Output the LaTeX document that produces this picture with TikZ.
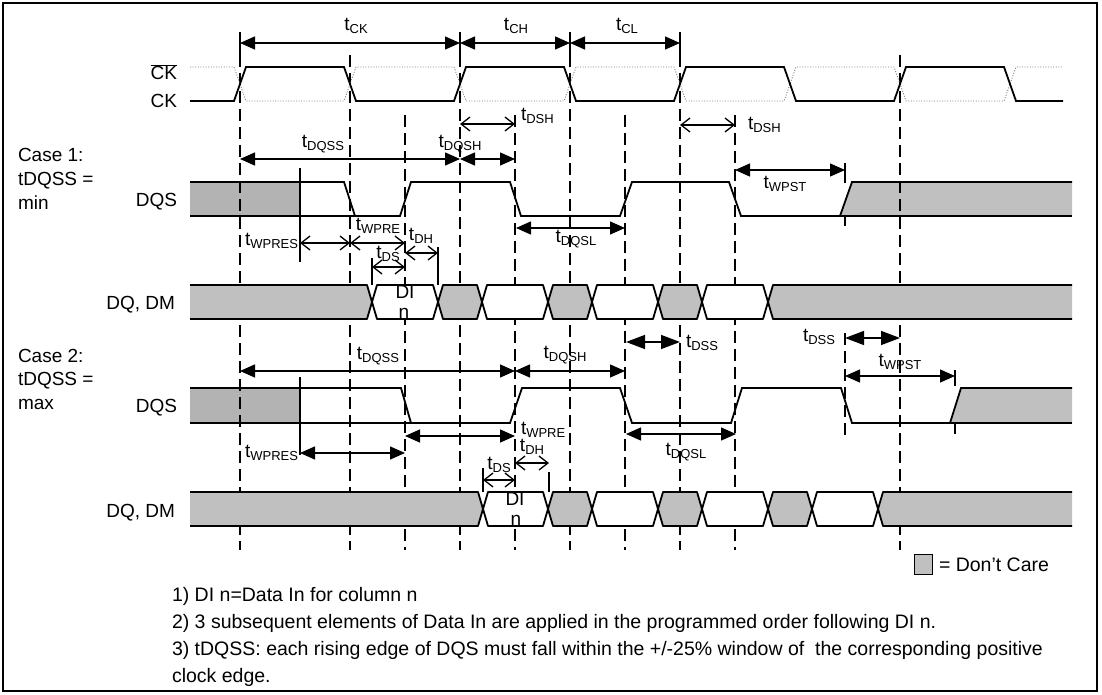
\documentclass[tikz,border=0pt]{standalone}
\usepackage{fontspec}
\setmainfont{Liberation Sans}
\usetikzlibrary{arrows.meta}
\definecolor{dcgray}{HTML}{C0C0C0}
\definecolor{dcdark}{HTML}{B3B3B3}
\newcommand{\tsub}[2]{#1\raisebox{-2.5pt}{\fontsize{13}{13}\selectfont #2}}
\newcommand{\dqeye}[5]{%
  \filldraw[sig, line join=round, fill=#5] (#1,{(#3+#4)/2}) -- ({#1+5},#3) -- ({#2-5},#3) -- (#2,{(#3+#4)/2}) -- ({#2-5},#4) -- ({#1+5},#4) -- cycle;}
\begin{document}
\begin{tikzpicture}[x=1pt,y=-1pt,
  every node/.style={inner sep=0pt, outer sep=0pt, font=\fontsize{19}{22}\selectfont},
  sig/.style={line width=1.8pt},
  dsh/.style={line width=1.6pt, dash pattern=on 12pt off 6pt},
  tick/.style={line width=1.4pt},
  dim/.style={line width=1.4pt, {Triangle[length=15pt,width=13pt]}-{Triangle[length=15pt,width=13pt]}},
  bigdim/.style={line width=1.4pt, {Triangle[length=19pt,width=14pt]}-{Triangle[length=19pt,width=14pt]}},
  odim/.style={line width=1.3pt, {Straight Barb[length=9pt,width=14pt]}-{Straight Barb[length=9pt,width=14pt]}},
  lab/.style={anchor=mid},
  note/.style={anchor=base west, font=\fontsize{19.5}{23}\selectfont},
  ckdot/.style={line width=0.9pt, gray, dash pattern=on 1pt off 1.6pt},
]
\useasboundingbox (0,0) rectangle (1102,695);
\draw[line width=2.5pt] (3,3) rectangle (1097,691);

% ---------- left labels
\node[anchor=base east] (lckb) at (177,80) {$\overline{\mbox{CK}}$};
\node[anchor=base east] (lck) at (177,108) {CK};
\node[anchor=base west] (c1a) at (18,162) {Case 1:};
\node[anchor=base west] (c1b) at (18,185.5) {tDQSS =};
\node[anchor=base west] (c1c) at (18,209) {min};
\node[anchor=base east] (ldqs1) at (177,207) {DQS};
\node[anchor=base east] (ldq1) at (175,309) {DQ, DM};
\node[anchor=base west] (c2a) at (18,362) {Case 2:};
\node[anchor=base west] (c2b) at (18,385.5) {tDQSS =};
\node[anchor=base west] (c2c) at (18,409) {max};
\node[anchor=base east] (ldqs2) at (177,412) {DQS};
\node[anchor=base east] (ldq2) at (175,517) {DQ, DM};

% ---------- DQS grey blocks (under dashes)
\fill[dcdark] (190,182) rectangle (300,216);
\fill[dcgray] (840,216) -- (852,182) -- (1072,182) -- (1072,216) -- cycle;
\fill[dcdark] (190,388) rectangle (300,423);
\fill[dcgray] (950,423) -- (961,388) -- (1072,388) -- (1072,423) -- cycle;

% ---------- dashed reference lines
\foreach \x in {240,350,460,570,680,900} \draw[dsh] (\x,55) -- (\x,550);
\foreach \x in {405,515,625,735} \draw[dsh] (\x,115) -- (\x,550);
\draw[dsh] (845,333) -- (845,436);
\foreach \x in {240,460,570,680} \draw[tick] (\x,32) -- (\x,56);

% ---------- clock
\draw[ckdot] (190,67) -- (234,67) -- (246,101) -- (344,101) -- (356,67) -- (454,67) -- (466,101) -- (564,101) -- (576,67) -- (674,67) -- (686,101) -- (784,101) -- (796,67) -- (894,67) -- (906,101) -- (1004,101) -- (1016,67) -- (1063,67);
\draw[sig] (190,101) -- (234,101) -- (246,67) -- (344,67) -- (356,101) -- (454,101) -- (466,67) -- (564,67) -- (576,101) -- (674,101) -- (686,67) -- (784,67) -- (796,101) -- (894,101) -- (906,67) -- (1004,67) -- (1016,101) -- (1063,101);

\draw[dim] (240,43) -- (460,43);
\draw[dim] (460,43) -- (570,43);
\draw[dim] (570,43) -- (680,43);
\node[lab] (tck) at (356,28) {\tsub{t}{CK}};
\node[lab] (tch) at (516,28) {\tsub{t}{CH}};
\node[lab] (tcl) at (627,28) {\tsub{t}{CL}};

\draw[odim] (460,124) -- (515,124);
\node[anchor=mid west] (tdsh1) at (521,118) {\tsub{t}{DSH}};
\draw[odim] (680,125) -- (735,125);
\node[anchor=mid west] (tdsh2) at (748,127) {\tsub{t}{DSH}};

% ---------- case 1 DQS
\draw[sig] (190,182) -- (344,182) -- (355,216);
\draw[sig] (190,216) -- (400,216) -- (411,182) -- (510,182) -- (521,216) -- (620,216) -- (632,182) -- (729,182) -- (741,216) -- (840,216) -- (852,182) -- (1072,182);
\draw[sig] (840,216) -- (1072,216);
\draw[tick] (300,168) -- (300,262);
\draw[dim] (240,159) -- (460,159);
\draw[dim] (460,159) -- (515,159);
\node[lab] (tdqss1) at (323,145) {\tsub{t}{DQSS}};
\node[lab] (tdqsh1) at (460,145) {\tsub{t}{DQSH}};
\draw[dim] (735,170) -- (845,170);
\draw[tick] (845,163) -- (845,183);
\draw[tick] (845,216) -- (845,226);
\node[lab] (twpst1) at (785,186) {\tsub{t}{WPST}};
\draw[odim] (300,243) -- (350,243);
\draw[odim] (350,243) -- (405,243);
\node[anchor=mid east] (twpres1) at (298,243) {\tsub{t}{WPRES}};
\node[lab] (twpre1) at (378,228) {\tsub{t}{WPRE}};
\draw[odim] (405,253) -- (438,253);
\draw[odim] (372,267) -- (405,267);
\draw[tick] (372,258) -- (372,285);
\draw[tick] (438,247) -- (438,285);
\node[lab] (tdh1) at (421,238) {\tsub{t}{DH}};
\node[lab] (tds1) at (388,256) {\tsub{t}{DS}};
\draw[dim] (516,228) -- (625,228);
\node[lab] (tdqsl1) at (576,240) {\tsub{t}{DQSL}};

% ---------- case 1 DQ
\fill[dcgray] (190,285) -- (367,285) -- (372,302) -- (367,319) -- (190,319) -- cycle;
\draw[sig, line join=round] (190,285) -- (367,285) -- (372,302) -- (367,319) -- (190,319);
\dqeye{372}{438}{285}{319}{white}
\dqeye{438}{482}{285}{319}{dcgray}
\dqeye{482}{548}{285}{319}{white}
\dqeye{548}{592}{285}{319}{dcgray}
\dqeye{592}{658}{285}{319}{white}
\dqeye{658}{702}{285}{319}{dcgray}
\dqeye{702}{768}{285}{319}{white}
\fill[dcgray] (768,302) -- (773,285) -- (1072,285) -- (1072,319) -- (773,319) -- cycle;
\draw[sig, line join=round] (1072,285) -- (773,285) -- (768,302) -- (773,319) -- (1072,319);
\node[anchor=base] (di1) at (405,298) {DI};
\node[anchor=base] (n1) at (404,318) {n};

\draw[bigdim] (626,342) -- (680,342);
\node[anchor=mid west] (tdss1) at (686,345) {\tsub{t}{DSS}};
\draw[bigdim] (845,338) -- (900,338);
\node[anchor=mid east] (tdss2) at (835,339) {\tsub{t}{DSS}};

% ---------- case 2 DQS
\draw[sig] (190,388) -- (401,388) -- (411,423);
\draw[sig] (190,423) -- (510,423) -- (522,388) -- (620,388) -- (632,423) -- (731,423) -- (742,388) -- (841,388) -- (852,423) -- (950,423) -- (961,388) -- (1072,388);
\draw[sig] (950,423) -- (1072,423);
\draw[tick] (300,377) -- (300,455);
\draw[dim] (240,371) -- (515,371);
\draw[dim] (515,371) -- (625,371);
\node[lab] (tdqss2) at (378,357) {\tsub{t}{DQSS}};
\node[lab] (tdqsh2) at (565,356) {\tsub{t}{DQSH}};
\draw[dim] (845,376) -- (955,376);
\draw[tick] (955,370) -- (955,386);
\draw[tick] (955,423) -- (955,434);
\node[lab] (twpst2) at (900,364) {\tsub{t}{WPST}};
\draw[dim] (405,436) -- (515,436);
\node[anchor=mid west] (twpre2) at (521,432) {\tsub{t}{WPRE}};
\draw[dim] (300,453) -- (405,453);
\node[anchor=mid east] (twpres2) at (298,455) {\tsub{t}{WPRES}};
\draw[dim] (626,434) -- (736,434);
\node[lab] (tdqsl2) at (686,453) {\tsub{t}{DQSL}};
\draw[odim] (515,463) -- (549,463);
\draw[odim] (483,480) -- (515,480);
\draw[tick] (483,468) -- (483,492);
\draw[tick] (549,472) -- (549,492);
\node[lab] (tdh2) at (532,449) {\tsub{t}{DH}};
\node[lab] (tds2) at (499,467) {\tsub{t}{DS}};

% ---------- case 2 DQ
\fill[dcgray] (190,492) -- (478,492) -- (483,509) -- (478,526) -- (190,526) -- cycle;
\draw[sig, line join=round] (190,492) -- (478,492) -- (483,509) -- (478,526) -- (190,526);
\dqeye{483}{548}{492}{526}{white}
\dqeye{548}{592}{492}{526}{dcgray}
\dqeye{592}{658}{492}{526}{white}
\dqeye{658}{702}{492}{526}{dcgray}
\dqeye{702}{768}{492}{526}{white}
\dqeye{768}{812}{492}{526}{dcgray}
\dqeye{812}{878}{492}{526}{white}
\fill[dcgray] (878,509) -- (883,492) -- (1072,492) -- (1072,526) -- (883,526) -- cycle;
\draw[sig, line join=round] (1072,492) -- (883,492) -- (878,509) -- (883,526) -- (1072,526);
\node[anchor=base] (di2) at (515,505) {DI};
\node[anchor=base] (n2) at (516,525) {n};

% ---------- legend and notes
\filldraw[fill=dcgray, line width=1pt] (914,554) rectangle (932,574);
\node[note] (dc) at (939,571) {= Don't Care};
\node[note] (n1t) at (172,601) {1) DI n=Data In for column n};
\node[note] (n2t) at (172,628) {2) 3 subsequent elements of Data In are applied in the programmed order following DI n.};
\node[note] (n3t) at (172,655) {3) tDQSS: each rising edge of DQS must fall within the +/-25\% window of~ the corresponding positive};
\node[note] (n4t) at (172,682) {clock edge.};
\end{tikzpicture}
\end{document}
